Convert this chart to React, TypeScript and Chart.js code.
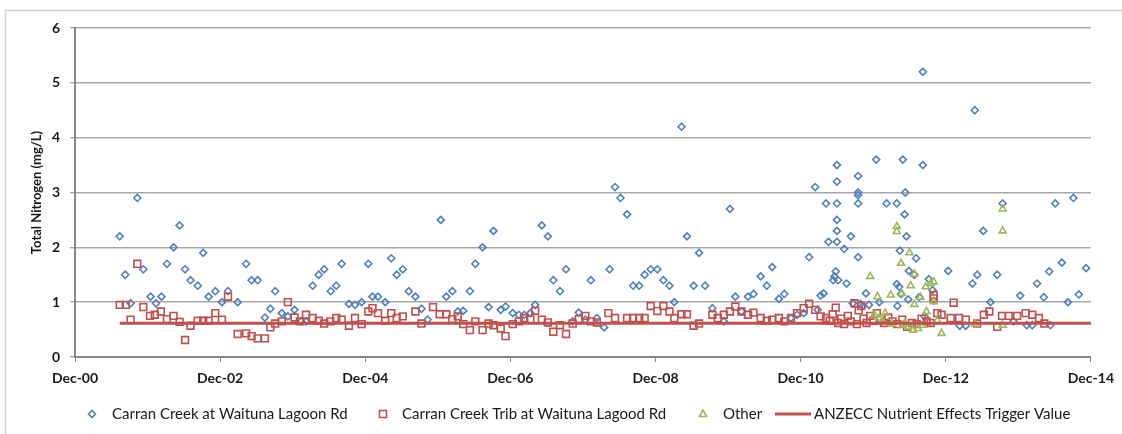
import React, { useEffect, useRef } from 'react';
import { Chart, registerables } from 'chart.js';

Chart.register(...registerables);

// x values are months since December 2000
const xTickMonths = [0, 24, 48, 72, 96, 120, 144, 168];
const xTickLabels = ['Dec-00', 'Dec-02', 'Dec-04', 'Dec-06', 'Dec-08', 'Dec-10', 'Dec-12', 'Dec-14'];
const yTickValues = [0, 1, 2, 3, 4, 5, 6];

const seriesLabels = [
  'Carran Creek at Waituna Lagoon Rd',
  'Carran Creek Trib at Waituna Lagood Rd',
  'Other',
  'ANZECC Nutrient Effects Trigger Value',
];

const blueMonths = [
  7.4, 8.3, 9.2, 10.3, 11.3, 12.5, 13.4, 14.3, 15.2, 16.3, 17.3, 18.2, 19.1, 20.3, 21.2, 22.1, 23.2, 24.3, 25.3, 26.9,
  28.3, 29.2, 30.2, 31.4, 32.3, 33.1, 34.2, 35.2, 36.3, 37.4, 38.2, 39.3, 40.3, 41.2, 42.3, 43.2, 44.1, 45.3, 46.3, 47.4,
  48.5, 49.2, 50.1, 51.3, 52.3, 53.2, 54.2, 55.2, 56.3, 57.3, 58.3, 60.5, 61.4, 62.4, 63.3, 64.2, 65.3, 66.2, 67.4, 68.4,
  69.2, 70.4, 71.2, 72.4, 73.4, 74.3, 75.3, 76.1, 77.2, 78.2, 79.1, 80.2, 81.2, 82.3, 83.3, 84.4, 85.3, 86.3, 87.5, 88.4,
  89.3, 90.2, 91.3, 92.3, 93.3, 94.2, 95.2, 96.3, 97.3, 98.3, 99.1, 100.3, 101.2, 102.3, 103.2, 104.2, 105.4, 107.3, 108.3, 109.2,
  110.2, 111.3, 112.2, 113.4, 114.4, 115.3, 116.4, 117.3, 118.4, 119.4, 120.5, 121.4, 122.4, 122.8, 123.3, 123.8, 124.2, 124.6, 126.0, 126.0,
  126.0, 126.0, 126.0, 126.0, 125.8, 125.6, 125.4, 126.2, 127.2, 127.6, 128.3, 128.6, 129.5, 129.5, 129.5, 129.5, 129.5, 129.9, 130.3, 130.8,
  131.3, 132.5, 133.0, 134.2, 135.9, 136.9, 137.3, 137.2, 137.5, 136.4, 137.9, 135.9, 136.3, 136.6, 136.0, 137.8, 138.8, 139.1, 139.6, 140.2,
  140.2, 140.5, 141.2, 141.8, 142.0, 144.4, 146.3, 147.3, 148.4, 148.8, 149.2, 150.2, 151.4, 152.5, 153.4, 155.2, 156.3, 157.4, 158.3, 159.1,
  160.2, 161.1, 161.3, 162.1, 163.2, 164.2, 165.1, 166.0, 167.2,
];
const blueTN = [
  2.2, 1.5, 0.98, 2.9, 1.6, 1.1, 0.98, 1.1, 1.7, 2.0, 2.4, 1.6, 1.4, 1.3, 1.9, 1.1, 1.2, 1.0, 1.2, 1.0,
  1.7, 1.4, 1.4, 0.72, 0.88, 1.2, 0.8, 0.74, 0.86, 0.65, 0.65, 1.3, 1.5, 1.6, 1.2, 1.3, 1.7, 0.97, 0.95, 1.0,
  1.7, 1.1, 1.1, 1.0, 1.8, 1.5, 1.6, 1.2, 1.1, 0.88, 0.68, 2.5, 1.1, 1.2, 0.83, 0.84, 1.2, 1.7, 2.0, 0.91,
  2.3, 0.86, 0.92, 0.8, 0.77, 0.77, 0.8, 0.95, 2.4, 2.2, 1.4, 1.2, 1.6, 0.65, 0.81, 0.68, 1.4, 0.71, 0.54, 1.6,
  3.1, 2.9, 2.6, 1.3, 1.3, 1.5, 1.6, 1.6, 1.4, 1.3, 1.0, 4.2, 2.2, 1.3, 1.9, 1.3, 0.89, 0.65, 2.7, 1.1,
  0.83, 1.1, 1.15, 1.47, 1.3, 1.64, 1.06, 1.15, 0.71, 0.77, 0.8, 1.82, 3.1, 0.86, 1.12, 1.16, 2.8, 2.1, 3.5, 3.2,
  2.8, 2.5, 2.3, 2.1, 1.56, 1.47, 1.4, 1.4, 1.97, 1.34, 2.2, 0.98, 3.3, 3.0, 2.95, 2.8, 1.82, 0.97, 0.93, 1.16,
  0.95, 3.6, 1.0, 2.8, 2.8, 3.6, 3.0, 2.6, 2.2, 1.94, 1.57, 1.33, 1.28, 1.15, 0.93, 1.05, 1.5, 1.8, 1.09, 5.2,
  3.5, 0.74, 1.42, 1.22, 1.03, 1.57, 0.57, 0.57, 1.34, 4.5, 1.5, 2.3, 1.0, 1.5, 2.8, 0.65, 1.12, 0.58, 0.58, 1.34,
  1.09, 1.56, 0.58, 2.8, 1.72, 1.0, 2.9, 1.14, 1.62,
];

const redMonths = [
  7.4, 8.4, 9.2, 10.3, 11.3, 12.4, 13.2, 14.2, 15.2, 16.3, 17.3, 18.2, 19.1, 20.3, 21.2, 22.1, 23.2, 24.3, 25.3, 26.9,
  28.3, 29.2, 30.2, 31.4, 32.3, 33.1, 34.2, 35.2, 36.3, 37.2, 38.2, 39.3, 40.3, 41.2, 42.2, 43.2, 44.1, 45.3, 46.3, 47.4,
  48.5, 49.2, 50.1, 51.3, 52.3, 53.2, 54.2, 56.3, 57.3, 59.2, 60.3, 61.4, 62.4, 63.3, 64.2, 65.3, 66.2, 67.4, 68.4, 69.2,
  70.4, 71.2, 72.4, 73.4, 74.3, 75.3, 76.1, 77.2, 78.2, 79.1, 80.2, 81.2, 82.3, 83.3, 84.4, 85.3, 86.3, 88.2, 89.3, 91.3,
  92.3, 93.3, 94.2, 95.2, 96.3, 97.3, 98.3, 99.1, 100.3, 101.2, 102.3, 103.2, 105.4, 106.3, 107.3, 108.3, 109.2, 110.2, 111.3, 112.2,
  113.4, 114.4, 115.3, 116.4, 117.3, 118.4, 119.4, 120.5, 121.4, 122.4, 123.3, 124.2, 124.8, 125.3, 125.8, 126.2, 126.7, 127.2, 127.8, 128.3,
  128.9, 129.3, 129.6, 130.0, 130.4, 130.9, 131.5, 132.0, 132.6, 133.2, 133.8, 134.5, 135.2, 136.0, 136.8, 137.6, 138.4, 139.2, 140.0, 140.8,
  141.5, 142.0, 142.0, 142.6, 143.3, 144.8, 145.3, 146.2, 147.3, 149.2, 150.3, 151.2, 152.5, 153.3, 154.4, 155.8, 157.2, 158.3, 159.4, 160.3,
];
const redTN = [
  0.95, 0.95, 0.68, 1.7, 0.91, 0.75, 0.77, 0.83, 0.69, 0.75, 0.64, 0.31, 0.57, 0.66, 0.66, 0.66, 0.8, 0.68, 1.1, 0.42,
  0.43, 0.38, 0.34, 0.34, 0.54, 0.61, 0.65, 1.0, 0.72, 0.65, 0.77, 0.71, 0.66, 0.61, 0.65, 0.71, 0.68, 0.57, 0.71, 0.6,
  0.83, 0.89, 0.8, 0.66, 0.8, 0.71, 0.74, 0.83, 0.61, 0.91, 0.78, 0.78, 0.69, 0.74, 0.6, 0.49, 0.65, 0.49, 0.61, 0.58,
  0.52, 0.38, 0.6, 0.65, 0.71, 0.68, 0.84, 0.68, 0.63, 0.46, 0.58, 0.42, 0.61, 0.69, 0.75, 0.65, 0.63, 0.8, 0.71, 0.71,
  0.71, 0.71, 0.71, 0.93, 0.84, 0.93, 0.83, 0.71, 0.78, 0.78, 0.57, 0.61, 0.77, 0.71, 0.77, 0.83, 0.92, 0.83, 0.77, 0.81,
  0.71, 0.66, 0.68, 0.71, 0.65, 0.71, 0.8, 0.89, 0.97, 0.86, 0.74, 0.71, 0.66, 0.78, 0.9, 0.62, 0.7, 0.6, 0.75, 0.65,
  0.98, 0.6, 0.85, 0.93, 0.7, 0.62, 0.75, 0.66, 0.8, 0.7, 0.62, 0.72, 0.65, 0.6, 0.68, 0.55, 0.62, 0.6, 0.7, 0.65,
  0.62, 1.13, 1.07, 0.8, 0.77, 0.71, 0.99, 0.71, 0.68, 0.61, 0.77, 0.83, 0.55, 0.75, 0.75, 0.75, 0.8, 0.77, 0.71, 0.61,
];

const otherMonths = [
  131.5, 132.7, 132.2, 133.0, 133.6, 134.0, 134.9, 135.0, 135.9, 135.9, 136.6, 136.7, 137.2, 136.8, 138.0, 138.2, 138.8, 138.8, 137.8, 138.6,
  139.8, 139.4, 140.2, 140.7, 140.8, 141.5, 142.0, 142.0, 142.6, 143.3, 148.9, 153.4, 153.4, 153.4,
];
const otherTN = [
  1.47, 1.1, 0.77, 0.71, 0.65, 0.8, 1.13, 0.6, 2.38, 2.29, 1.71, 1.16, 0.61, 0.58, 1.9, 1.3, 1.51, 0.96, 0.55, 0.49,
  1.09, 0.52, 0.58, 1.28, 0.83, 1.34, 1.37, 1.01, 0.66, 0.43, 0.6, 2.7, 2.3, 0.58,
];

const triggerMonths = [7.4, 168];
const triggerTN = [0.614, 0.614];

const BLUE = '#4F81BD';
const RED = '#C0504D';
const GREEN = '#9BBB59';

const toPoints = (xs: number[], ys: number[]) => xs.map((x, i) => ({ x, y: ys[i] }));

const frameAndLegend = {
  id: 'frameAndLegend',
  beforeDraw(chart: any) {
    const ctx = chart.ctx;
    ctx.save();
    ctx.fillStyle = '#ffffff';
    ctx.fillRect(0, 0, chart.width, chart.height);
    ctx.strokeStyle = '#cfcfcf';
    ctx.lineWidth = 1.5;
    ctx.strokeRect(5.5, 10.5, chart.width + 20, chart.height + 20);
    ctx.restore();
  },
  afterDraw(chart: any) {
    const ctx = chart.ctx;
    const y = 414;
    ctx.save();
    ctx.lineWidth = 1.6;
    // blue diamond
    ctx.strokeStyle = BLUE;
    ctx.beginPath();
    const bx = 92, r = 3.5;
    ctx.moveTo(bx, y - r); ctx.lineTo(bx + r, y); ctx.lineTo(bx, y + r); ctx.lineTo(bx - r, y); ctx.closePath();
    ctx.stroke();
    // red square
    ctx.strokeStyle = RED;
    ctx.strokeRect(383 - 3.5, y - 3.5, 7, 7);
    // green triangle
    ctx.strokeStyle = GREEN;
    ctx.beginPath();
    const gx = 703;
    ctx.moveTo(gx, y - 4); ctx.lineTo(gx + 3.5, y + 2.5); ctx.lineTo(gx - 3.5, y + 2.5); ctx.closePath();
    ctx.stroke();
    // trigger line
    ctx.strokeStyle = RED;
    ctx.lineWidth = 3;
    ctx.beginPath();
    ctx.moveTo(775, y); ctx.lineTo(811, y);
    ctx.stroke();
    // texts
    ctx.fillStyle = '#1a1a1a';
    ctx.font = '15px Lato';
    ctx.textBaseline = 'middle';
    ctx.textAlign = 'left';
    const textX = [112, 402, 723, 814];
    seriesLabels.forEach((t, i) => ctx.fillText(t, textX[i], y));
    ctx.restore();
  },
};

export default function App() {
  const canvasRef = useRef<HTMLCanvasElement | null>(null);

  useEffect(() => {
    document.body.style.margin = '0';
    const canvas = canvasRef.current;
    if (!canvas) return;
    const chart = new Chart(canvas, {
      type: 'scatter',
      data: {
        datasets: [
          {
            type: 'line',
            label: seriesLabels[3],
            data: toPoints(triggerMonths, triggerTN),
            borderColor: RED,
            borderWidth: 3,
            pointRadius: 0,
            showLine: true,
            fill: false,
            order: 0,
          } as any,
          {
            label: seriesLabels[2],
            data: toPoints(otherMonths, otherTN),
            pointStyle: 'triangle',
            pointRadius: 4,
            borderColor: GREEN,
            backgroundColor: 'rgba(0,0,0,0)',
            borderWidth: 1.6,
            order: 1,
          },
          {
            label: seriesLabels[1],
            data: toPoints(redMonths, redTN),
            pointStyle: 'rect',
            pointRadius: 4.8,
            borderColor: RED,
            backgroundColor: 'rgba(0,0,0,0)',
            borderWidth: 1.6,
            order: 2,
          },
          {
            label: seriesLabels[0],
            data: toPoints(blueMonths, blueTN),
            pointStyle: 'rectRot',
            pointRadius: 3.5,
            borderColor: BLUE,
            backgroundColor: 'rgba(0,0,0,0)',
            borderWidth: 1.6,
            order: 3,
          },
        ],
      },
      options: {
        responsive: false,
        animation: false,
        layout: { padding: { left: 0, right: 29, top: 28, bottom: 0 } },
        plugins: {
          legend: { display: false },
          tooltip: { enabled: false },
        },
        scales: {
          x: {
            type: 'linear',
            min: 0,
            max: 168,
            afterBuildTicks: (scale: any) => {
              scale.ticks = xTickMonths.map((v) => ({ value: v }));
            },
            afterFit: (scale: any) => {
              scale.height = 77;
            },
            ticks: {
              callback: (_v: any, i: number) => xTickLabels[i],
              font: { family: 'Lato', size: 14, weight: 'bold' },
              color: '#1a1a1a',
              padding: 8,
              maxRotation: 0,
            },
            grid: { drawOnChartArea: false, drawTicks: true, tickLength: 5, color: '#868686', lineWidth: 1 },
            border: { display: true, color: '#868686', width: 2 },
          },
          y: {
            type: 'linear',
            min: 0,
            max: 6,
            afterBuildTicks: (scale: any) => {
              scale.ticks = yTickValues.map((v) => ({ value: v }));
            },
            afterFit: (scale: any) => {
              scale.width = 75;
            },
            ticks: {
              callback: (v: any) => String(v),
              font: { family: 'Lato', size: 14, weight: 'bold' },
              color: '#1a1a1a',
              padding: 10,
            },
            title: {
              display: true,
              text: 'Total Nitrogen (mg/L)',
              font: { family: 'Lato', size: 13, weight: 'bold' },
              color: '#1a1a1a',
              padding: { top: 29, bottom: 0 },
            },
            grid: { color: '#a8a8a8', lineWidth: 1.4, tickLength: 5 },
            border: { display: true, color: '#868686', width: 2 },
          },
        },
      },
      plugins: [frameAndLegend],
    });
    return () => chart.destroy();
  }, []);

  return (
    <div style={{ position: 'relative', width: 1122, height: 434 }}>
      <canvas ref={canvasRef} width={1122} height={434} style={{ display: 'block' }} />
    </div>
  );
}
